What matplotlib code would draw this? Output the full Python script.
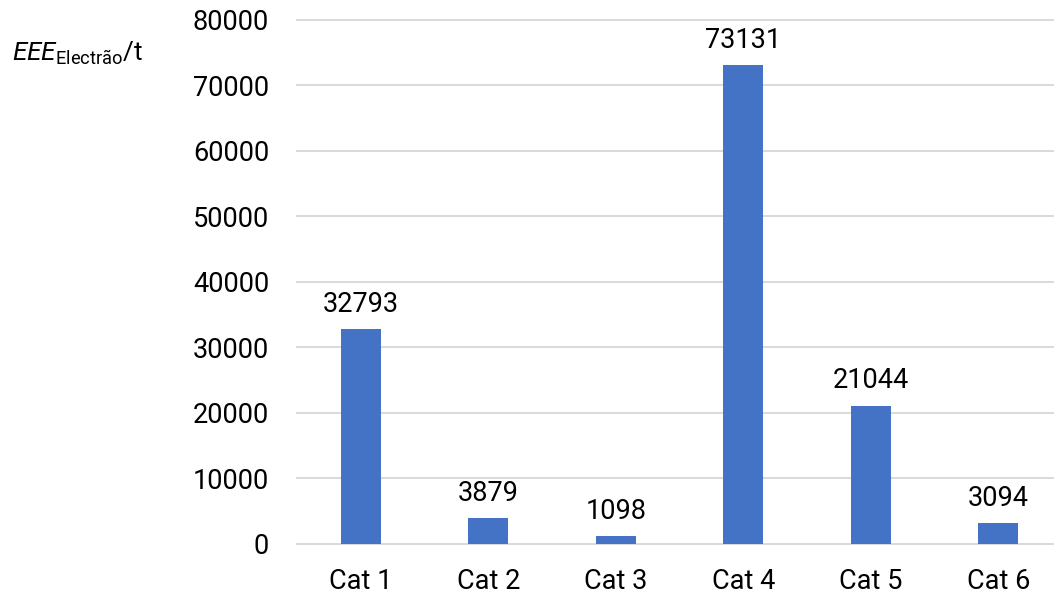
import matplotlib
matplotlib.use("Agg")
import matplotlib.pyplot as plt

# data
categories = ["Cat 1", "Cat 2", "Cat 3", "Cat 4", "Cat 5", "Cat 6"]
values = [32793, 3879, 1098, 73131, 21044, 3094]
yticks = [0, 10000, 20000, 30000, 40000, 50000, 60000, 70000, 80000]

plt.rcParams['font.family'] = ['Roboto', 'DejaVu Sans']
plt.rcParams['mathtext.fontset'] = 'custom'
plt.rcParams['mathtext.rm'] = 'Roboto'
plt.rcParams['mathtext.it'] = 'Roboto:italic'

fs = 19.5

fig = plt.figure(figsize=(10.54, 5.95), dpi=100)
# axes in pixel terms: left 297, right ~1062 (cut off by the figure edge), bottom 543.5, top 20
ax = fig.add_axes([297 / 1054, (595 - 543.5) / 595, (1062 - 297) / 1054, (543.5 - 20) / 595])

x = range(len(categories))
ax.bar(x, values, width=0.315, color='#4472C4', zorder=3)

for xi, v in zip(x, values):
    ax.annotate(str(v), (xi, v), xytext=(0, 12.5), textcoords='offset points',
                ha='center', va='baseline', fontsize=fs, color='#000000')

ax.set_xlim(-0.5, len(categories) - 0.5)
ax.set_ylim(0, 80000)
ax.set_yticks(yticks)
ax.set_xticks(list(x))
ax.set_xticklabels(categories)
ax.tick_params(axis='both', length=0, labelsize=fs, colors='#000000')
ax.tick_params(axis='y', pad=20)
ax.tick_params(axis='x', pad=17.5)

ax.grid(axis='y', color='#d9d9d9', linewidth=1.4, zorder=0)
for gl in ax.get_ygridlines():
    gl.set_clip_on(False)
for s in ax.spines.values():
    s.set_visible(False)

fig.text(12 / 1054, 1 - 61 / 595, r'$\mathit{EEE}_{\mathrm{Electrão}}$/t',
         ha='left', va='baseline', fontsize=18.8)

fig.savefig("out.png", dpi=100)
